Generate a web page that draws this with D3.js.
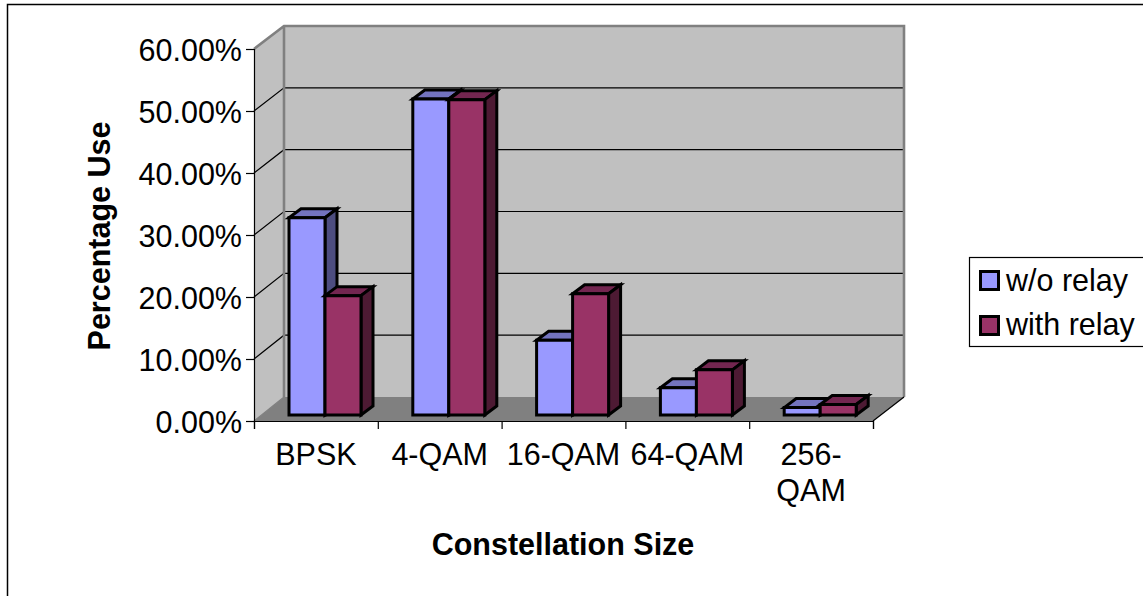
<!DOCTYPE html>
<html><head><meta charset="utf-8">
<script src="https://cdn.jsdelivr.net/npm/d3@7"></script>
<style>html,body{margin:0;padding:0;background:#fff}svg{display:block}text{font-family:"Liberation Sans",Arial,sans-serif;fill:#000}</style>
</head><body><svg id="c" width="1143" height="596"></svg>
<script>
const categories=["BPSK","4-QAM","16-QAM","64-QAM","256-QAM"];
const withoutRelay=[31.9,51.1,12.1,4.4,1.2];
const withRelay=[19.3,51.0,19.6,7.3,1.7];
const seriesNames=["w/o relay","with relay"];
const yTicks=[0,10,20,30,40,50,60];
const yTitle="Percentage Use", xTitle="Constellation Size";

const svg=d3.select("#c");
const FS=30.5, LW=3;
const x=d3.scaleBand().domain(categories).range([254,873]);
const y=d3.scaleLinear().domain([0,60]).range([421,49]);
const yBack=d3.scaleLinear().domain([0,60]).range([397,26]);
const yBar=d3.scaleLinear().domain([0,60]).range([415,44]);
const barDx=12, barDy=-9, barW=36, barInset=35;
const C={wall:"#c0c0c0",floor:"#808080",edge:"#808080",s:["#9999ff","#993366"],top:["#7373bf","#732650"],side:["#4d4d80","#4d1a33"]};

svg.append("rect").attr("x",7.5).attr("y",4.5).attr("width",1140).attr("height",600).attr("fill","#fff").attr("stroke","#000").attr("stroke-width",1.5);

const poly=(pts,fill,stroke,sw)=>svg.append("polygon").attr("points",pts.map(p=>p.join(",")).join(" ")).attr("fill",fill).attr("stroke",stroke||"none").attr("stroke-width",sw||0).attr("stroke-linejoin","miter");
const X0=254,X1=873,XB0=X0+30,XB1=X1+31;
poly([[X0,y(0)],[X0,y(60)],[XB0,yBack(60)],[XB0,yBack(0)]],C.wall);
poly([[XB0,yBack(60)],[XB1,yBack(60)],[XB1,yBack(0)],[XB0,yBack(0)]],C.wall);
poly([[X0,y(0)],[XB0,yBack(0)],[XB1,yBack(0)],[X1,y(0)]],C.floor);
yTicks.slice(1,-1).forEach(t=>{
  svg.append("path").attr("d",`M${X0},${y(t)}L${XB0},${yBack(t)}L${XB1},${yBack(t)}`).attr("fill","none").attr("stroke","#000").attr("stroke-width",1.2);
});
svg.append("path").attr("d",`M${X0},${y(60)}L${XB0},${yBack(60)}L${XB1},${yBack(60)}L${XB1},${yBack(0)}M${XB0},${yBack(60)}L${XB0},${yBack(0)}`).attr("fill","none").attr("stroke",C.edge).attr("stroke-width",2.6);
svg.append("path").attr("d",`M${X1},${y(0)}L${XB1},${yBack(0)}`).attr("fill","none").attr("stroke","#000").attr("stroke-width",1.2);
svg.append("path").attr("d",`M${X0},${y(0)}L${XB0},${yBack(0)}`).attr("fill","none").attr("stroke","#808080").attr("stroke-width",1.2);
const ax=d3.axisLeft(y).tickValues(yTicks).tickFormat(d=>d.toFixed(2)+"%").tickSize(8).tickPadding(4);
const gy=svg.append("g").attr("transform",`translate(${X0},0)`).call(ax);
const xt=categories.map((c,i)=>i).concat(categories.length);
const xpos=d3.scaleLinear().domain([0,5]).range([X0,X1]);
const gx=svg.append("g").attr("transform",`translate(0,${y(0)})`).call(d3.axisBottom(xpos).tickValues(xt).tickFormat("").tickSize(8));
[gy,gx].forEach(g=>{g.selectAll("path").attr("stroke","#000").attr("stroke-width",1.2);g.selectAll("line").attr("stroke","#000").attr("stroke-width",1.2);});
gy.selectAll("text").attr("font-size",FS).attr("font-family",'"Liberation Sans"').attr("dy","0.39em").attr("fill","#000");
const catLines=c=>c==="256-QAM"?["256-","QAM"]:[c];
categories.forEach(c=>{
  catLines(c).forEach((l,i)=>svg.append("text").attr("x",x(c)+x.bandwidth()/2).attr("y",465+i*36).attr("text-anchor","middle").attr("font-size",FS).text(l));
});
[withoutRelay,withRelay].forEach((vals,s)=>{
  vals.forEach((v,i)=>{
    const x0=x(categories[i])+barInset+s*barW, x1=x0+barW, t=yBar(v), b=yBar(0);
    poly([[x0,t],[x0+barDx,t+barDy],[x1+barDx,t+barDy],[x1,t]],C.top[s],"#000",LW);
    poly([[x1,t],[x1+barDx,t+barDy],[x1+barDx,b+barDy],[x1,b]],C.side[s],"#000",LW);
    poly([[x0,t],[x1,t],[x1,b],[x0,b]],C.s[s],"#000",LW);
  });
});
svg.append("text").attr("transform","translate(109.5,236) rotate(-90)").attr("text-anchor","middle").attr("font-size",FS).attr("font-weight","bold").text(yTitle);
svg.append("text").attr("x",563).attr("y",555).attr("text-anchor","middle").attr("font-size",FS).attr("font-weight","bold").text(xTitle);
svg.append("rect").attr("x",969.5).attr("y",257.5).attr("width",180).attr("height",89).attr("fill","#fff").attr("stroke","#000").attr("stroke-width",1.2);
seriesNames.forEach((n,i)=>{
  svg.append("rect").attr("x",980.5).attr("y",271.5+i*45).attr("width",18).attr("height",18).attr("fill",C.s[i]).attr("stroke","#000").attr("stroke-width",LW);
  svg.append("text").attr("x",1006).attr("y",291+i*44).attr("font-size",FS).text(n);
});
</script></body></html>
